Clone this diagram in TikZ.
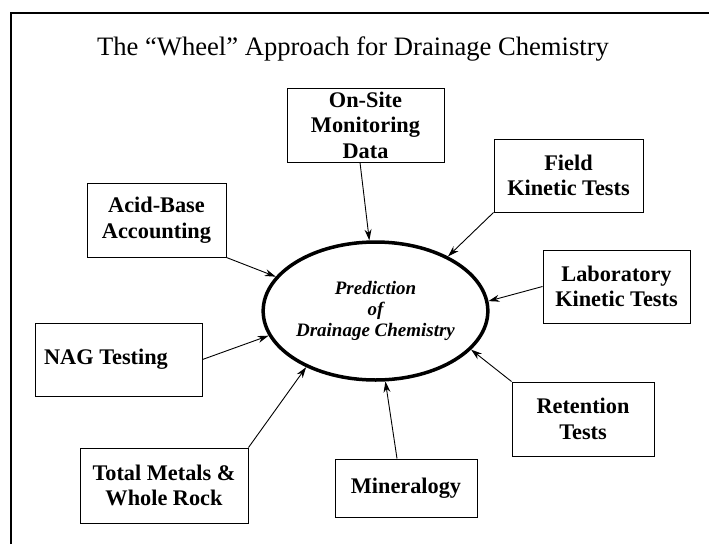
\documentclass[tikz,border=0pt]{standalone}
\usepackage{fontspec}
\setmainfont{Liberation Serif}
\usetikzlibrary{shapes.geometric,arrows.meta}
\begin{document}
\begin{tikzpicture}[x=1pt,y=-1pt,
  box/.style={draw,line width=1pt,align=center,inner sep=0pt,
    font=\fontsize{22.3}{25.5}\selectfont\bfseries},
  feed/.style={line width=0.9pt,-{Stealth[length=11pt,width=7pt]}},
  frame/.style={line width=2pt},
]
\useasboundingbox (0,0) rectangle (709,544);
\draw[frame] (11,544) -- (11,13) -- (709,13);
\node[anchor=base,font=\fontsize{26.6}{31}\selectfont] (title) at (353,55)
  {The “Wheel” Approach for Drainage Chemistry};

\node[draw,ellipse,line width=3.5pt,inner sep=0pt,minimum width=221pt,minimum height=138pt,
  align=center,font=\fontsize{19}{21}\selectfont\bfseries\itshape] (wheel) at (375.5,311)
  {Prediction\\of\\Drainage Chemistry};

\node[box,minimum width=157pt,minimum height=74pt] (onsite) at (365.5,125) {On-Site\\Monitoring\\Data};
\node[box,minimum width=149pt,minimum height=73pt] (field) at (568.5,175.5) {Field\\Kinetic Tests};
\node[box,minimum width=147pt,minimum height=73pt] (lab) at (616.5,286.5) {Laboratory\\Kinetic Tests};
\node[box,minimum width=139pt,minimum height=74pt] (acid) at (156.5,220) {Acid-Base\\Accounting};
\node[box,minimum width=167pt,minimum height=73pt] (nag) at (118.5,359.5) {NAG Testing\hspace{25pt}};
\node[box,minimum width=142pt,minimum height=74pt] (ret) at (583,419) {Retention\\Tests};
\node[box,minimum width=168pt,minimum height=75pt] (total) at (164,485.5) {Total Metals \&\\Whole Rock};
\node[box,minimum width=142pt,minimum height=58pt] (mine) at (406,488) {Mineralogy};

\draw[feed] ([xshift=-5.5pt]onsite.south) -- (wheel.95);
\draw[feed] (field.south west) -- (wheel.37);
\draw[feed] (lab.west) -- (wheel.5.6);
\draw[feed] (acid.south east) -- (wheel.161.8);
\draw[feed] (nag.east) -- (wheel.193.2);
\draw[feed] (total.north east) -- (wheel.219.1);
\draw[feed] ([xshift=-9pt]mine.north) -- (wheel.278.3);
\draw[feed] (ret.north west) -- (wheel.338.2);
\end{tikzpicture}
\end{document}
